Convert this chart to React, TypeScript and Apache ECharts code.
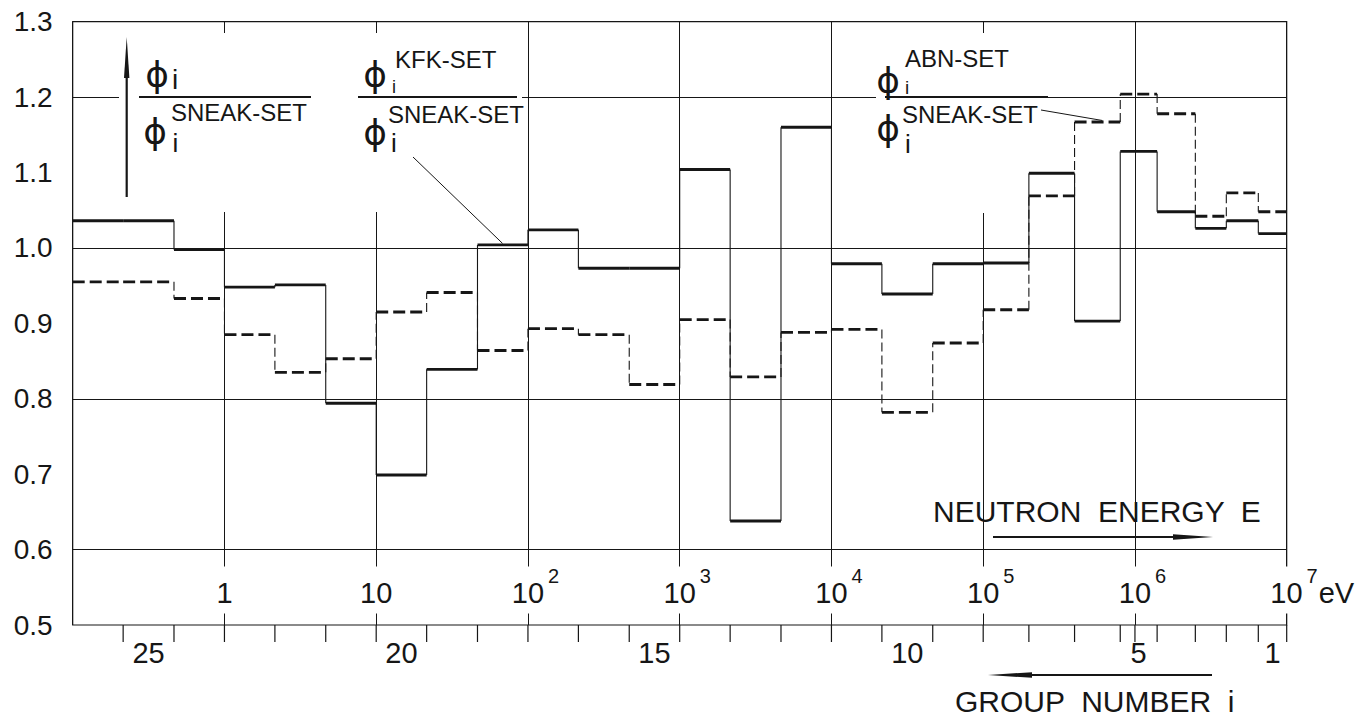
import { useEffect, useRef } from "react";
import * as echarts from "echarts";

// SNEAK 26-group energy structure: group edges in eV, rising energy (group 26 .. group 1)
const groupBounds = [
  0.1, 0.215, 0.465, 1, 2.15, 4.65, 10, 21.5, 46.5, 100, 215, 465, 1e3, 2.15e3, 4.65e3,
  1e4, 2.15e4, 4.65e4, 1e5, 2e5, 4e5, 8e5, 1.4e6, 2.5e6, 4e6, 6.5e6, 1.05e7,
];
// group number of each interval above
const groupNumbers = [
  26, 25, 24, 23, 22, 21, 20, 19, 18, 17, 16, 15, 14, 13, 12, 11, 10, 9, 8, 7, 6, 5, 4, 3, 2, 1,
];
// flux ratio phi(KFK-SET) / phi(SNEAK-SET), per group, rising energy
const kfkRatio = [
  1.036, 1.036, 0.998, 0.948, 0.951, 0.794, 0.699, 0.839, 1.004, 1.024, 0.973, 0.973, 1.104,
  0.638, 1.16, 0.979, 0.939, 0.979, 0.98, 1.099, 0.903, 1.128, 1.048, 1.026, 1.036, 1.019,
];
// flux ratio phi(ABN-SET) / phi(SNEAK-SET), per group, rising energy
const abnRatio = [
  0.955, 0.955, 0.933, 0.885, 0.835, 0.853, 0.915, 0.941, 0.864, 0.893, 0.885, 0.819, 0.905,
  0.829, 0.888, 0.892, 0.782, 0.874, 0.918, 1.069, 1.167, 1.204, 1.178, 1.042, 1.073, 1.048,
];
// group numbers that carry a label on the lower scale
const labelledGroups = [25, 20, 15, 10, 5, 1];
// extra decade marks on the lower scale that are not group edges
const extraDecadeTicks = [1e6, 1e7];
// y range of the ratio axis
const yMin = 0.5;
const yMax = 1.3;
const yStep = 0.1;

const INK = "#161616";
const SANS = '"Liberation Sans", "DejaVu Sans", sans-serif';
const GREEK = '"DejaVu Sans", sans-serif';

function stepData(ratio: number[]) {
  return ratio.map((v, i) => [
    groupBounds[i],
    groupBounds[i + 1],
    v,
    i + 1 < ratio.length ? ratio[i + 1] : v,
  ]);
}

function stepSeries(name: string, ratio: number[], dashed: boolean) {
  return {
    type: "custom",
    name,
    clip: true,
    z: 3,
    encode: { x: [0, 1], y: [2, 3] },
    data: stepData(ratio),
    renderItem: (params: any, api: any) => {
      const lo = api.value(0);
      const hi = api.value(1);
      const v = api.value(2);
      const vn = api.value(3);
      const a = api.coord([lo, v]);
      const b = api.coord([hi, v]);
      const c = api.coord([hi, vn]);
      return {
        type: "group",
        children: [
          {
            type: "line",
            shape: { x1: a[0], y1: a[1], x2: b[0], y2: b[1] },
            style: {
              stroke: INK,
              lineWidth: 2.9,
              lineDash: dashed ? [12, 5] : null,
            },
          },
          {
            type: "line",
            shape: { x1: b[0], y1: b[1], x2: c[0], y2: c[1] },
            style: {
              stroke: INK,
              lineWidth: 1.1,
              lineDash: dashed ? [9, 4] : null,
            },
          },
        ],
      };
    },
  };
}

const tickData = groupBounds
  .slice(1, groupBounds.length - 1)
  .concat(extraDecadeTicks)
  .map((e) => [e, yMin]);

const groupLabelData = labelledGroups.map((g) => {
  const i = groupNumbers.indexOf(g);
  const hi = Math.min(groupBounds[i + 1], 1e7);
  return [Math.sqrt(groupBounds[i] * hi), yMin, g];
});

function energyLabel(val: number) {
  const n = Math.round(Math.log10(val));
  if (n === 0) return "{b|1}";
  if (n === 1) return "{b|10}";
  if (n === 7) return `{q| }{b|10}{s|${n}}{u|eV}`;
  return `{p| }{b|10}{s|${n}}`;
}

function buildOption() {
  return {
    animation: false,
    backgroundColor: "#ffffff",
    textStyle: { fontFamily: SANS, color: INK },
    grid: {
      left: 72.7,
      right: 68.3,
      top: 21.7,
      bottom: 93,
      show: true,
      borderColor: INK,
      borderWidth: 1.2,
      backgroundColor: "transparent",
      containLabel: false,
      outerBoundsMode: "none",
    },
    xAxis: {
      type: "log",
      logBase: 10,
      min: 0.1,
      max: 1e7,
      splitNumber: 8,
      axisLine: { show: false },
      axisTick: { show: false },
      splitLine: { show: true, lineStyle: { color: INK, width: 1 } },
      axisLabel: {
        inside: true,
        margin: 11.5,
        showMinLabel: false,
        showMaxLabel: true,
        hideOverlap: false,
        formatter: energyLabel,
        rich: {
          b: {
            fontSize: 29,
            fontFamily: SANS,
            color: INK,
            lineHeight: 30,
            padding: [12, 3, 6, 3],
            backgroundColor: "#ffffff",
            verticalAlign: "bottom",
          },
          s: {
            fontSize: 20,
            fontFamily: SANS,
            color: INK,
            lineHeight: 20,
            padding: [0, 0, 28, 1],
            verticalAlign: "bottom",
          },
          u: {
            fontSize: 29,
            fontFamily: SANS,
            color: INK,
            lineHeight: 30,
            padding: [12, 0, 6, 1],
            verticalAlign: "bottom",
          },
          p: { width: 12, fontSize: 20, lineHeight: 20, verticalAlign: "bottom" },
          q: { width: 48, fontSize: 20, lineHeight: 20, verticalAlign: "bottom" },
        },
      },
    },
    yAxis: {
      type: "value",
      min: yMin,
      max: yMax,
      interval: yStep,
      axisLine: { show: false },
      axisTick: { show: false },
      splitLine: {
        show: true,
        lineStyle: { color: ["rgba(0,0,0,0)", INK], width: 1 },
      },
      axisLabel: {
        fontSize: 28,
        fontFamily: SANS,
        color: INK,
        margin: 20,
        padding: [5, 0, 0, 0],
        formatter: (v: number) => v.toFixed(1),
      },
    },
    series: [
      stepSeries("KFK-SET", kfkRatio, false),
      stepSeries("ABN-SET", abnRatio, true),
      {
        type: "custom",
        name: "group edges",
        clip: false,
        silent: true,
        encode: { x: 0, y: 1 },
        data: tickData,
        renderItem: (params: any, api: any) => {
          const p = api.coord([api.value(0), api.value(1)]);
          return {
            type: "line",
            shape: { x1: p[0], y1: p[1], x2: p[0], y2: p[1] + 17 },
            style: { stroke: INK, lineWidth: 1.2 },
          };
        },
      },
      {
        type: "custom",
        name: "group numbers",
        clip: false,
        silent: true,
        encode: { x: 0, y: 1 },
        data: groupLabelData,
        renderItem: (params: any, api: any) => {
          const p = api.coord([api.value(0), api.value(1)]);
          return {
            type: "text",
            x: p[0],
            y: p[1] + 28,
            style: {
              text: String(api.value(2)),
              font: `29px ${SANS}`,
              fill: INK,
              textAlign: "center",
              textVerticalAlign: "middle",
            },
          };
        },
      },
    ],
  };
}

function txt(x: number, y: number, text: string, size: number, family = SANS, align = "left") {
  return {
    type: "text",
    x,
    y,
    z: 7,
    style: {
      text,
      font: `${size}px ${family}`,
      fill: INK,
      textAlign: align,
      textVerticalAlign: "middle",
    },
  };
}

function seg(x1: number, y1: number, x2: number, y2: number, w: number) {
  return {
    type: "line",
    z: 7,
    shape: { x1, y1, x2, y2 },
    style: { stroke: INK, lineWidth: w },
  };
}

function mask(x: number, y: number, w: number, h: number) {
  return {
    type: "rect",
    z: 6,
    shape: { x, y, width: w, height: h },
    style: { fill: "#ffffff" },
  };
}

function buildGraphics(kfkAnchor: number[], abnAnchor: number[]) {
  return [
    // clear the grid behind the ratio captions
    mask(119, 33, 403, 179),
    mask(876, 33, 149, 180),

    // upward arrow and generic ratio
    seg(126.7, 197, 126.7, 70, 2.2),
    {
      type: "polygon",
      z: 7,
      shape: { points: [[126.7, 37], [124, 78], [129.4, 78]] },
      style: { fill: INK },
    },
    txt(157, 74.5, "ϕ", 36, GREEK, "center"),
    txt(172, 79, "i", 28),
    seg(139, 97, 311, 97, 2),
    txt(155, 131, "ϕ", 36, GREEK, "center"),
    txt(171, 112, "SNEAK-SET", 24),
    txt(172.5, 143, "i", 26),

    // KFK-SET ratio
    txt(375, 74.5, "ϕ", 36, GREEK, "center"),
    txt(395, 59.5, "KFK-SET", 24),
    txt(392, 86.5, "i", 18),
    seg(358, 97, 517, 97, 2),
    txt(375, 132, "ϕ", 36, GREEK, "center"),
    txt(388, 114.5, "SNEAK-SET", 24),
    txt(391, 142.5, "i", 26),
    seg(413, 157, kfkAnchor[0], kfkAnchor[1] - 1.5, 1),

    // ABN-SET ratio
    txt(888, 80.5, "ϕ", 36, GREEK, "center"),
    txt(905, 58.5, "ABN-SET", 24),
    txt(905, 87, "i", 19),
    seg(885, 97, 1048, 97, 2),
    txt(888, 128, "ϕ", 36, GREEK, "center"),
    txt(902, 114.5, "SNEAK-SET", 24),
    txt(905, 144, "i", 26),
    seg(1041, 110, abnAnchor[0], abnAnchor[1] - 1.5, 1),

    // direction captions
    txt(933, 511, "NEUTRON  ENERGY  E", 30),
    seg(993, 537, 1180, 537, 2),
    {
      type: "polygon",
      z: 7,
      shape: { points: [[1213, 537], [1173, 534.2], [1173, 539.8]] },
      style: { fill: INK },
    },
    seg(1025, 675, 1212, 675, 2),
    {
      type: "polygon",
      z: 7,
      shape: { points: [[988, 675], [1032, 672.2], [1032, 677.8]] },
      style: { fill: INK },
    },
    txt(955, 701, "GROUP  NUMBER  i", 30),
  ];
}

export default function App() {
  const ref = useRef<HTMLDivElement>(null);

  useEffect(() => {
    if (!ref.current) return;
    const chart = echarts.init(ref.current, undefined, { renderer: "svg" });
    chart.setOption(buildOption() as any);
    const g18 = groupNumbers.indexOf(18);
    const g6 = groupNumbers.indexOf(6);
    const kfkAnchor = chart.convertToPixel({ gridIndex: 0 } as any, [68, kfkRatio[g18]]) as number[];
    const abnAnchor = chart.convertToPixel({ gridIndex: 0 } as any, [6.1e5, abnRatio[g6]]) as number[];
    chart.setOption({ graphic: buildGraphics(kfkAnchor, abnAnchor) } as any);
    return () => chart.dispose();
  }, []);

  return (
    <div
      ref={ref}
      style={{ position: "absolute", left: 0, top: 0, width: 1355, height: 718, background: "#fff" }}
    />
  );
}
